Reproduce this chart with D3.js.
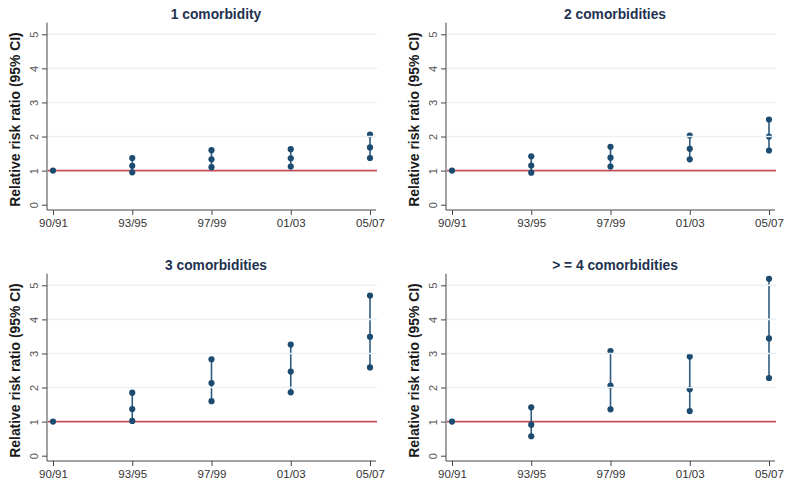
<!DOCTYPE html>
<html>
<head>
<meta charset="utf-8">
<script src="https://cdn.jsdelivr.net/npm/d3@7"></script>
<style>
  body { margin: 0; background: #fff; }
  svg { display: block; font-family: "Liberation Sans", Arial, sans-serif; }
</style>
</head>
<body>
<div class="canvas"></div>
<script>
// periods on the x axis
const periods = ['90/91', '93/95', '97/99', '01/03', '05/07'];
const yTicks = [0, 1, 2, 3, 4, 5];

// panel titles
const titles = ['1 comorbidity', '2 comorbidities', '3 comorbidities', '> = 4 comorbidities'];

// relative risk ratio estimates and 95% CI per panel (90/91 is the reference = 1)
const estimate = [
    [1, 1.14, 1.33, 1.36, 1.68],
    [1, 1.15, 1.38, 1.64, 2.00],
    [1, 1.37, 2.13, 2.47, 3.49],
    [1, 0.91, 2.06, 1.95, 3.44]
];
const lower = [
    [1, 0.95, 1.10, 1.12, 1.37],
    [1, 0.94, 1.12, 1.33, 1.59],
    [1, 1.02, 1.60, 1.86, 2.59],
    [1, 0.57, 1.36, 1.31, 2.28]
];
const upper = [
    [1, 1.37, 1.60, 1.63, 2.06],
    [1, 1.42, 1.70, 2.03, 2.50],
    [1, 1.85, 2.83, 3.26, 4.70],
    [1, 1.42, 3.07, 2.91, 5.19]
];

const width = 795, height = 487;

const svg = d3.select('.canvas')
    .append('svg')
    .attr('width', width)
    .attr('height', height);

// panel geometry (same for every panel, shifted by column / row)
const colOffset = [0, 399];
const rowOffset = [0, 251];
const axisX = 47;      // y axis line
const plotRight = 377; // right end of grid / reference line
const axisY = 210;     // x axis line

const x = d3.scalePoint().domain(periods).range([53, 370]);
const y = d3.scaleLinear().domain([0, 5]).range([204.7, 34.3]);

const navy = '#1b4b70';

titles.forEach((title, i) => {
    const g = svg.append('g')
        .attr('transform', `translate(${colOffset[i % 2]}, ${rowOffset[Math.floor(i / 2)]})`);

    // reference line at 1
    g.append('line')
        .attr('x1', axisX + 1).attr('x2', plotRight)
        .attr('y1', y(1)).attr('y2', y(1))
        .attr('stroke', '#c8505e')
        .attr('stroke-width', 1.6);

    // CI lines and points
    const rows = periods.map((p, j) => ({ p, est: estimate[i][j], lo: lower[i][j], hi: upper[i][j] }));

    g.selectAll('line.ci')
        .data(rows.filter(d => d.hi !== d.lo))
        .enter().append('line')
        .attr('class', 'ci')
        .attr('x1', d => x(d.p)).attr('x2', d => x(d.p))
        .attr('y1', d => y(d.lo)).attr('y2', d => y(d.hi))
        .attr('stroke', '#2f5b7f')
        .attr('stroke-width', 1.6);

    const pts = [];
    rows.forEach(d => {
        pts.push({ p: d.p, v: d.est });
        if (d.lo !== d.est) pts.push({ p: d.p, v: d.lo });
        if (d.hi !== d.est) pts.push({ p: d.p, v: d.hi });
    });

    g.selectAll('circle')
        .data(pts)
        .enter().append('circle')
        .attr('cx', d => x(d.p))
        .attr('cy', d => y(d.v))
        .attr('r', 3.1)
        .attr('fill', navy);

    // light gridlines drawn on top, as in the original
    g.selectAll('line.grid')
        .data(yTicks.filter(t => t >= 2))
        .enter().append('line')
        .attr('class', 'grid')
        .attr('x1', axisX + 1).attr('x2', plotRight)
        .attr('y1', d => y(d)).attr('y2', d => y(d))
        .attr('stroke', '#eaf1f5')
        .attr('stroke-width', 1.6);

    // y axis, labels turned on their side
    const yAxis = d3.axisLeft(y).tickValues(yTicks).tickFormat(d3.format('d')).tickSize(5);
    const yg = g.append('g')
        .attr('transform', `translate(${axisX}, 0)`)
        .call(yAxis);
    yg.select('.domain').attr('d', `M-0,22.7V${axisY}`);
    yg.selectAll('line, path').attr('stroke', '#444');
    yg.selectAll('text')
        .attr('font-size', 11)
        .attr('fill', '#555')
        .attr('text-anchor', 'middle')
        .attr('transform', 'rotate(-90)')
        .attr('x', 0)
        .attr('y', -9)
        .attr('dy', null);

    // x axis
    const xAxis = d3.axisBottom(x).tickSize(5).tickPadding(4);
    const xg = g.append('g')
        .attr('transform', `translate(0, ${axisY})`)
        .call(xAxis);
    xg.select('.domain').attr('d', `M${axisX},0H${plotRight - 1}`);
    xg.selectAll('line, path').attr('stroke', '#444');
    xg.selectAll('text')
        .attr('font-size', 11.5)
        .attr('fill', '#333');

    // title
    g.append('text')
        .attr('x', 216)
        .attr('y', 19)
        .attr('text-anchor', 'middle')
        .attr('font-size', 13.8)
        .attr('font-weight', 'bold')
        .attr('fill', '#22324f')
        .text(title);

    // y label
    g.append('text')
        .attr('transform', `translate(20, ${(34.3 + 204.7) / 2}) rotate(-90)`)
        .attr('text-anchor', 'middle')
        .attr('font-size', 13.9)
        .attr('font-weight', 'bold')
        .attr('fill', '#1a1a1a')
        .text('Relative risk ratio (95% CI)');
});
</script>
</body>
</html>
